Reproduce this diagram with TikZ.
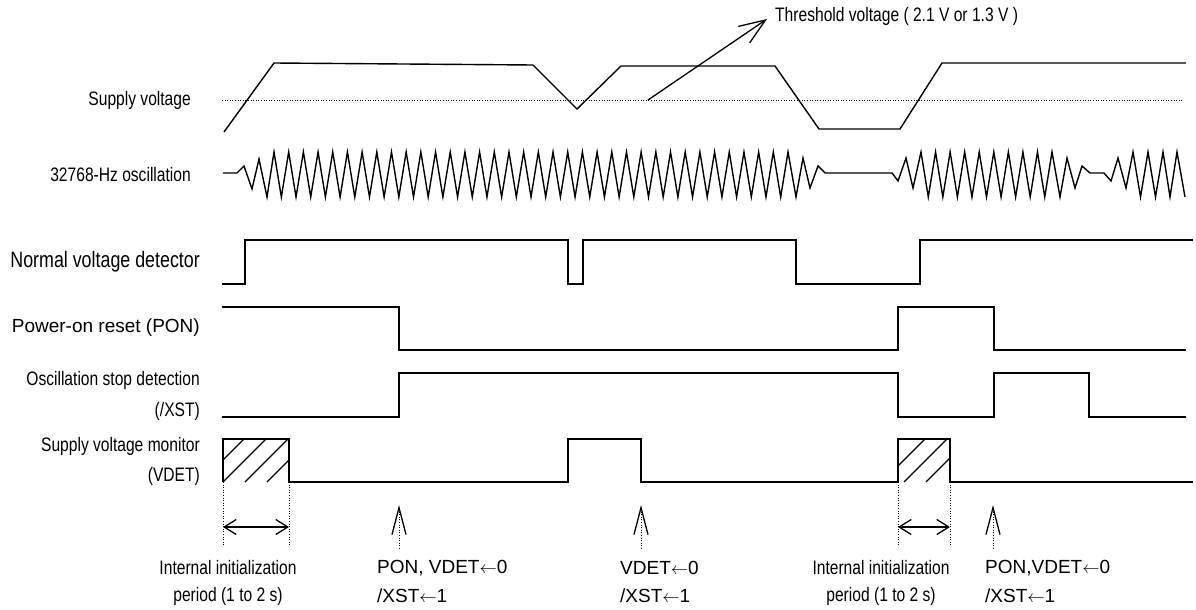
\documentclass[tikz,border=0pt]{standalone}
\usepackage{fontspec}
\setmainfont{Liberation Sans}
\newfontfamily\narrowfont[FakeStretch=0.8]{Liberation Sans}
\usetikzlibrary{arrows.meta}
\newcommand{\lar}{\ensuremath{\leftarrow}}
\tikzset{
  sig/.style={line width=1.4pt, line join=miter},
  fine/.style={line width=1pt, dash pattern=on 1pt off 1.6pt},
  nlbl/.style={inner sep=0pt, font=\narrowfont\fontsize{19.5}{21}\selectfont},
  blbl/.style={inner sep=0pt, font=\narrowfont\fontsize{22.3}{24}\selectfont},
  rlbl/.style={inner sep=0pt, font=\fontsize{19}{21}\selectfont},
  upar/.style={fine, -{Straight Barb[length=27pt,width=14pt,line width=1.3pt]}},
  dbar/.style={line width=1.3pt, {Straight Barb[length=12pt,width=15pt]}-{Straight Barb[length=12pt,width=15pt]}},
  hatch/.style={line width=1.3pt}
}
\begin{document}
\begin{tikzpicture}[x=1pt,y=-1pt]
\useasboundingbox (0,0) rectangle (1196,610);
% ---------- left labels
\node[nlbl, anchor=east] (lsv) at (191,100) {Supply voltage};
\node[nlbl, anchor=east] (losc) at (191,175) {32768-Hz oscillation};
\node[blbl, anchor=east] (lnvd) at (200,262) {Normal voltage detector};
\node[rlbl, anchor=east] (lpon) at (200,328) {Power-on reset (PON)};
\node[nlbl, anchor=east] (lxst1) at (200,380) {Oscillation stop detection};
\node[nlbl, anchor=east] (lxst2) at (200,411) {(/XST)};
\node[nlbl, anchor=east] (lvd1) at (200,446) {Supply voltage monitor};
\node[nlbl, anchor=east] (lvd2) at (200,476) {(VDET)};
% ---------- supply voltage
\draw[fine] (222,100) -- (1183,100);
\draw[sig] (224,132) -- (274,63) -- (533,65) -- (577,109) -- (621,66) -- (775,66)
  -- (819,129) -- (900,129) -- (942,63) -- (1186,63);
\node[nlbl, anchor=west] (thr) at (775,16) {Threshold voltage ( 2.1 V or 1.3 V )};
\coordinate (thrs) at (648,100);
\coordinate (thrt) at (767,19);
\draw[line width=1.3pt, -{Straight Barb[length=26pt,width=20pt]}] (thrs) -- (thrt);
% ---------- oscillation
\draw[sig] (223,173) -- (237,173) -- (244,166) -- (252,189) -- (259,159) -- (267,197) -- (274,152)
  \foreach \k in {1,...,35} { -- ({274+\k*14.686-7.343},197) -- ({274+\k*14.686},152) }
  -- (796,197) -- (803,158) -- (810,188) -- (818,166) -- (825,173) -- (892,173)
  -- (898,181) -- (906,158) -- (913,188) -- (921,152)
  \foreach \k in {1,...,9} { -- ({921+\k*14.556-7.278},197) -- ({921+\k*14.556},152) }
  -- (1060,197) -- (1067,158) -- (1075,188) -- (1082,166) -- (1090,173) -- (1104,173)
  -- (1111,181) -- (1118,158) -- (1126,188) -- (1133,152)
  -- (1140.5,197) -- (1148,152) -- (1155.5,197) -- (1163,152) -- (1170,197) -- (1177,152) -- (1185,197);
% ---------- normal voltage detector
\draw[sig] (222,284) -- (245,284) -- (245,240) -- (568,240) -- (568,284) -- (583,284) -- (583,240)
  -- (796,240) -- (796,284) -- (920,284) -- (920,240) -- (1193,240);
% ---------- PON
\draw[sig] (222,307) -- (399,307) -- (399,350) -- (898,350) -- (898,307) -- (994,307) -- (994,350) -- (1186,350);
% ---------- /XST
\draw[sig] (222,417) -- (399,417) -- (399,373) -- (898,373) -- (898,417) -- (994,417) -- (994,373)
  -- (1089,373) -- (1089,417) -- (1186,417);
% ---------- VDET
\draw[sig] (223,482) -- (223,439) -- (289,439) -- (289,482) -- (568,482) -- (568,439) -- (641,439)
  -- (641,482) -- (898,482) -- (898,439) -- (950,439) -- (950,482) -- (1193,482);
\begin{scope}
  \clip (223,439) rectangle (289,482);
  \foreach \k in {-1,0,1,2} \draw[hatch] ({223+22*\k},482) -- ({266+22*\k},439);
\end{scope}
\begin{scope}
  \clip (898,439) rectangle (950,482);
  \foreach \k in {-1,0,1} \draw[hatch] ({904+22*\k},482) -- ({947+22*\k},439);
\end{scope}
% ---------- initialization periods
\coordinate (ia1) at (223,482); \coordinate (ib1) at (223,547);
\coordinate (ia2) at (289,482); \coordinate (ib2) at (289,547);
\draw[fine] (ia1) -- (ib1); \draw[fine] (ia2) -- (ib2);
\coordinate (da1) at (223,527); \coordinate (db1) at (289,527);
\draw[dbar] (da1) -- (db1);
\coordinate (ja1) at (898,482); \coordinate (jb1) at (898,547);
\coordinate (ja2) at (950,482); \coordinate (jb2) at (950,547);
\draw[fine] (ja1) -- (jb1); \draw[fine] (ja2) -- (jb2);
\coordinate (da2) at (898,527); \coordinate (db2) at (950,527);
\draw[dbar] (da2) -- (db2);
% ---------- event arrows
\coordinate (u1a) at (399,549); \coordinate (u1b) at (399,505);
\coordinate (u2a) at (641,549); \coordinate (u2b) at (641,505);
\coordinate (u3a) at (993,549); \coordinate (u3b) at (993,505);
\draw[upar] (u1a) -- (u1b);
\draw[upar] (u2a) -- (u2b);
\draw[upar] (u3a) -- (u3b);
% ---------- bottom labels
\node[nlbl] (ii1) at (228,568) {Internal initialization};
\node[nlbl] (ip1) at (228,596) {period (1 to 2 s)};
\node[rlbl, anchor=west] (e1a) at (377,568) {PON, VDET\lar0};
\node[rlbl, anchor=west] (e1b) at (377,596) {/XST\lar1};
\node[rlbl, anchor=west] (e2a) at (620,568) {VDET\lar0};
\node[rlbl, anchor=west] (e2b) at (620,596) {/XST\lar1};
\node[nlbl] (ii2) at (881,568) {Internal initialization};
\node[nlbl] (ip2) at (881,596) {period (1 to 2 s)};
\node[rlbl, anchor=west] (e3a) at (985,568) {PON,VDET\lar0};
\node[rlbl, anchor=west] (e3b) at (985,596) {/XST\lar1};
\end{tikzpicture}
\end{document}
